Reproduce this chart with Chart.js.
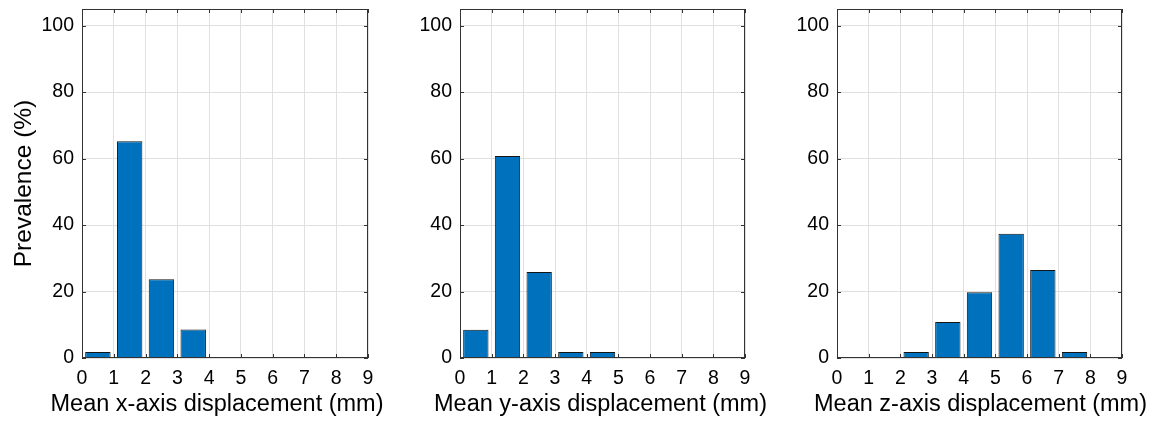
<!DOCTYPE html>
<html><head><meta charset="utf-8">
<script src="https://cdn.jsdelivr.net/npm/chart.js@4.4.1/dist/chart.umd.min.js"></script>
<style>
html,body{margin:0;padding:0;background:#fff;overflow:hidden}
#wrap{position:relative;width:1154px;height:422px;background:#fff}
canvas{position:absolute;left:0;top:0}
</style></head>
<body><div id="wrap">
<canvas id="c1" width="1154" height="422"></canvas>
<canvas id="c2" width="1154" height="422"></canvas>
<canvas id="c3" width="1154" height="422"></canvas>
</div>
<script>
// Bin centres (mm) of the histogram bars
const binCenters = [0.5, 1.5, 2.5, 3.5, 4.5, 5.5, 6.5, 7.5, 8.5];
// Tick labels
const xTickValues = [0, 1, 2, 3, 4, 5, 6, 7, 8, 9];
const yTickValues = [0, 20, 40, 60, 80, 100];
// Prevalence (%) per bin
const xDisplacement = [1.8, 65.2, 23.7, 8.6, 0, 0, 0, 0, 0];
const yDisplacement = [8.5, 60.8, 25.9, 1.8, 1.8, 0, 0, 0, 0];
const zDisplacement = [0, 0, 1.8, 10.8, 19.8, 37.4, 26.5, 1.8, 0];
// Titles
const xTitles = ['Mean x-axis displacement (mm)', 'Mean y-axis displacement (mm)', 'Mean z-axis displacement (mm)'];
const yTitle = 'Prevalence (%)';

const FONT = "Arial, 'Liberation Sans', Helvetica, sans-serif";
const FRAME = '#333333';

// Box frame with inward tick marks (MATLAB style) + x-axis title drawn without width compression
const framePlugin = {
  id: 'frame',
  afterDatasetsDraw(chart, args, opts) {
    const {ctx, chartArea: a, scales: {x, y}} = chart;
    ctx.save();
    ctx.strokeStyle = FRAME;
    ctx.lineWidth = 1;
    ctx.beginPath();
    const L = 4;
    x.ticks.forEach(t => {
      const px = Math.round(x.getPixelForValue(t.value)) + 0.5;
      ctx.moveTo(px, a.bottom); ctx.lineTo(px, a.bottom - L);
      ctx.moveTo(px, a.top); ctx.lineTo(px, a.top + L);
    });
    y.ticks.forEach(t => {
      const py = Math.round(y.getPixelForValue(t.value)) + 0.5;
      ctx.moveTo(a.left, py); ctx.lineTo(a.left + L, py);
      ctx.moveTo(a.right, py); ctx.lineTo(a.right - L, py);
    });
    ctx.stroke();
    ctx.strokeRect(Math.round(a.left) + 0.5, Math.round(a.top) + 0.5,
                   Math.round(a.right - a.left) - 1, Math.round(a.bottom - a.top) - 1);
    // x-axis title
    ctx.fillStyle = '#000';
    ctx.font = '23.5px ' + FONT;
    ctx.textAlign = 'center';
    ctx.textBaseline = 'alphabetic';
    ctx.fillText(opts.text, (x.left + x.right) / 2 + (opts.shift || 0), x.bottom - 11);
    ctx.restore();
  }
};

const panels = [
  {id: 'c1', values: xDisplacement, xTitle: xTitles[0], shift: -8, showYTitle: true,  padLeft: 0,   yWidth: 82, chartRight: 368},
  {id: 'c2', values: yDisplacement, xTitle: xTitles[1], shift: -2, showYTitle: false, padLeft: 380, yWidth: 80, chartRight: 745},
  {id: 'c3', values: zDisplacement, xTitle: xTitles[2], shift: 1,  showYTitle: false, padLeft: 757, yWidth: 80, chartRight: 1122}
];

panels.forEach(p => {
  new Chart(document.getElementById(p.id), {
    type: 'bar',
    data: {
      datasets: [{
        data: binCenters.map((c, i) => ({x: c, y: p.values[i]})),
        backgroundColor: '#0072BD',
        borderColor: '#151515',
        borderWidth: 1,
        borderSkipped: 'start',
        barPercentage: 0.8,
        categoryPercentage: 1.0
      }]
    },
    options: {
      responsive: false,
      animation: false,
      events: [],
      layout: {padding: {left: p.padLeft, right: 1154 - p.chartRight, top: 9, bottom: 0}},
      plugins: {
        legend: {display: false},
        tooltip: {enabled: false},
        frame: {text: p.xTitle, shift: p.shift}
      },
      scales: {
        x: {
          type: 'linear',
          min: 0, max: 9,
          offset: false,
          afterBuildTicks: s => { s.ticks = xTickValues.map(v => ({value: v})); },
          afterFit: s => { s.height = 64; s.paddingLeft = 0; s.paddingRight = 0; },
          grid: {color: '#e0e0e0', drawTicks: false, offset: false},
          border: {display: false},
          ticks: {color: '#000', font: {family: FONT, size: 19.5}, padding: 9, maxRotation: 0, autoSkip: false},
          title: {display: false}
        },
        y: {
          type: 'linear',
          min: 0, max: 105,
          afterBuildTicks: s => { s.ticks = yTickValues.map(v => ({value: v})); },
          afterFit: s => { s.width = p.yWidth; s.paddingTop = 0; s.paddingBottom = 0; },
          grid: {color: '#e0e0e0', drawTicks: false},
          border: {display: false},
          ticks: {color: '#000', font: {family: FONT, size: 19.5}, padding: 8},
          title: {display: p.showYTitle, text: yTitle, color: '#000', font: {family: FONT, size: 24.5}, padding: {top: 10, bottom: 0}}
        }
      }
    },
    plugins: [framePlugin]
  });
});
</script>
</body></html>
